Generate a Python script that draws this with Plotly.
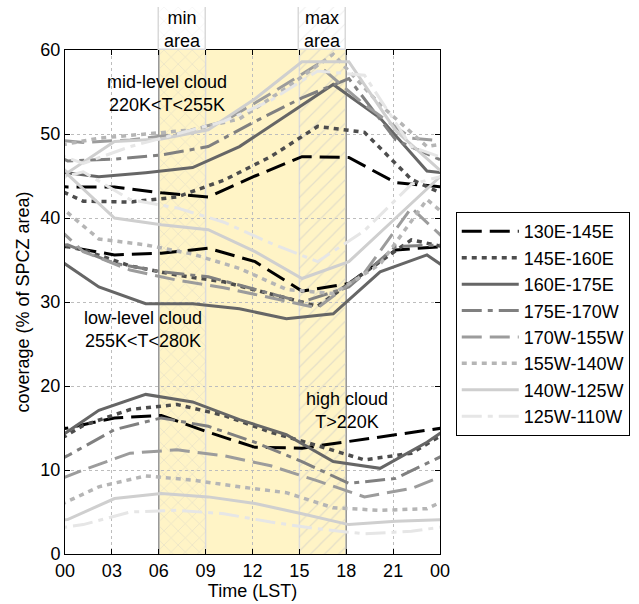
import plotly.graph_objects as go

# ---------------- data ----------------
hours_utc = [0, 3, 6, 9, 12, 15, 18, 21]
bands = ["130E-145E", "145E-160E", "160E-175E", "175E-170W",
         "170W-155W", "155W-140W", "140W-125W", "125W-110W"]
lon_centre = [137.5, 152.5, 167.5, 182.5, 197.5, 212.5, 227.5, 242.5]

tick_vals = [0, 3, 6, 9, 12, 15, 18, 21, 24]
tick_text = ["00", "03", "06", "09", "12", "15", "18", "21", "00"]

# coverage values, ordered by local solar time of each band's samples
mid_level = {
    "130E-145E": [43.7, 43.7, 43.0, 42.5, 45.0, 47.3, 47.2, 44.2],
    "145E-160E": [42.0, 41.9, 42.5, 44.5, 47.3, 50.9, 50.2, 44.6],
    "160E-175E": [44.9, 45.4, 46.0, 48.5, 52.2, 55.9, 51.9, 45.6],
    "175E-170W": [46.8, 47.0, 47.5, 48.5, 51.5, 54.3, 56.6, 49.3],
    "170W-155W": [49.0, 49.3, 50.0, 51.5, 54.8, 58.3, 53.5, 49.5],
    "155W-140W": [49.5, 50.0, 50.5, 51.8, 55.5, 59.5, 53.5, 48.5],
    "140W-125W": [45.4, 49.1, 49.4, 50.5, 54.2, 58.6, 58.6, 50.4],
    "125W-110W": [46.5, 48.5, 50.0, 51.5, 54.0, 57.5, 57.0, 48.5],
}
low_level = {
    "130E-145E": [36.6, 35.6, 35.8, 36.4, 34.8, 31.3, 32.2, 36.2],
    "145E-160E": [36.2, 34.3, 33.2, 32.4, 31.0, 29.5, 33.5, 37.4],
    "160E-175E": [31.8, 29.8, 29.8, 29.2, 28.0, 28.6, 33.6, 35.6],
    "175E-170W": [36.8, 34.6, 33.6, 33.0, 31.5, 30.0, 31.8, 36.6],
    "170W-155W": [36.0, 33.8, 32.6, 31.7, 30.5, 29.3, 33.5, 41.2],
    "155W-140W": [37.5, 36.8, 35.7, 34.0, 31.5, 31.0, 34.5, 42.2],
    "140W-125W": [45.2, 40.0, 39.2, 38.6, 36.0, 32.8, 34.8, 40.0],
    "125W-110W": [45.5, 42.2, 41.2, 39.5, 37.0, 34.8, 38.5, 44.0],
}
high_level = {
    "130E-145E": [15.0, 16.2, 16.5, 14.5, 12.7, 12.6, 13.4, 14.2],
    "145E-160E": [15.3, 17.2, 17.8, 16.5, 14.5, 12.9, 11.2, 12.0],
    "160E-175E": [17.1, 19.0, 18.1, 16.0, 14.2, 11.0, 10.2, 13.3],
    "175E-170W": [11.7, 14.8, 16.2, 15.2, 13.3, 11.0, 8.4, 9.0],
    "170W-155W": [10.0, 12.0, 12.4, 11.7, 10.5, 8.7, 6.8, 7.8],
    "155W-140W": [8.0, 9.3, 8.8, 8.0, 7.3, 5.5, 5.2, 5.4],
    "140W-125W": [4.1, 6.6, 7.2, 6.8, 6.0, 4.8, 3.5, 3.9],
    "125W-110W": [3.5, 5.0, 5.2, 4.8, 3.8, 3.0, 2.4, 2.7],
}

# highlighted periods: (label, start hour, end hour, hatch)
periods = [("min<br>area", 6, 9, "x"), ("max<br>area", 15, 18, "/")]
daytime = (6, 18)

cloud_labels = [
    ("mid-level cloud<br>220K&lt;T&lt;255K", 6.5, 54.8),
    ("low-level cloud<br>255K&lt;T&lt;280K", 5.0, 26.7),
    ("high cloud<br>T&gt;220K", 18.05, 17.1),
]

# ---------------- styles ----------------
colors = ["#000000", "#4d4d4d", "#666666", "#808080",
          "#9c9c9c", "#b5b5b5", "#cfcfcf", "#e6e6e6"]
dashes = ["20px,8px", "5px,5px", "solid", "20px,6px,5px,6px",
          "20px,8px", "5px,5px", "solid", "20px,6px,5px,6px"]

FONT = "Liberation Sans, Arial, Helvetica, sans-serif"
FS = 18
fig = go.Figure()

# yellow day-time background
fig.add_shape(type="rect", xref="x", yref="y", x0=daytime[0], x1=daytime[1],
              y0=0, y1=60, fillcolor="#FFF4C6", line_width=0, layer="below")

# hatched periods inside plot and boxes above
for label, a, b, hatch in periods:
    fig.add_trace(go.Bar(
        x=[(a + b) / 2], y=[60], width=[b - a], xaxis="x", yaxis="y",
        marker=dict(color="rgba(0,0,0,0)", line=dict(width=0),
                    pattern=dict(shape=hatch, fgcolor="#c9c9c9",
                                 bgcolor="rgba(0,0,0,0)", size=10, solidity=0.12)),
        showlegend=False, hoverinfo="skip"))
    fig.add_trace(go.Bar(
        x=[(a + b) / 2], y=[1], width=[b - a], xaxis="x2", yaxis="y2",
        marker=dict(color="white", line=dict(color="#d9d9d9", width=1.5),
                    pattern=dict(shape=hatch, fgcolor="#dedede",
                                 bgcolor="white", size=10, solidity=0.1)),
        showlegend=False, hoverinfo="skip"))
    fig.add_annotation(x=(a + b) / 2, y=0.48, xref="x2", yref="y2", text=label,
                       showarrow=False, font=dict(size=FS, color="black", family=FONT))
    for xv in (a, b):
        fig.add_shape(type="line", xref="x", yref="y", x0=xv, x1=xv, y0=0, y1=60,
                      line=dict(color="#dcdcdc", width=1.5), layer="between")

for xv in daytime:
    fig.add_shape(type="line", xref="x", yref="y", x0=xv, x1=xv, y0=0, y1=60,
                  line=dict(color="#999999", width=1.5), layer="between")

# data lines
for i, band in enumerate(bands):
    offset = lon_centre[i] / 15.0
    lst = sorted(((h + offset) % 24) for h in hours_utc)
    xs, ys = [], []
    for group in (mid_level, low_level, high_level):
        v = group[band]
        xs += [lst[-1] - 24] + lst + [lst[0] + 24] + [None]
        ys += [v[-1]] + v + [v[0]] + [None]
    width = 3.5 if dashes[i] == "5px,5px" else 3
    fig.add_trace(go.Scatter(
        x=xs, y=ys, mode="lines", name=band, connectgaps=False,
        line=dict(color=colors[i], width=width, dash=dashes[i]),
        xaxis="x", yaxis="y"))

for text, xv, yv in cloud_labels:
    fig.add_annotation(x=xv, y=yv, xref="x", yref="y", text=text, showarrow=False,
                       font=dict(size=FS, color="black", family=FONT))

main_top = (554 - 50) / 547.0
fig.update_layout(
    width=639, height=604,
    margin=dict(l=65, r=199, t=7, b=50),
    paper_bgcolor="white", plot_bgcolor="rgba(0,0,0,0)",
    font=dict(family=FONT, size=FS, color="black"),
    barmode="overlay", bargap=0,
    showlegend=True,
    legend=dict(x=1.042, y=0.625, xanchor="left", yanchor="top",
                bordercolor="black", borderwidth=1, bgcolor="white",
                font=dict(size=FS, family=FONT), itemwidth=57),
    xaxis=dict(domain=[0, 1], range=[0, 24], anchor="y",
               tickvals=tick_vals, ticktext=tick_text,
               showline=True, linecolor="black", linewidth=1, mirror="ticks",
               ticks="inside", ticklen=5, tickcolor="black",
               showgrid=True, gridcolor="#bdbdbd", griddash="dot", gridwidth=1,
               zeroline=False, automargin=False,
               title=dict(text="Time (LST)", standoff=2, font=dict(size=FS)),
               tickfont=dict(size=FS)),
    yaxis=dict(domain=[0, main_top], range=[0, 60], anchor="x", dtick=10,
               showline=True, linecolor="black", linewidth=1, mirror="ticks",
               ticks="inside", ticklen=5, tickcolor="black",
               showgrid=True, gridcolor="#bdbdbd", griddash="dot", gridwidth=1,
               zeroline=False, automargin=False,
               title=dict(text="coverage (% of SPCZ area)", standoff=6, font=dict(size=FS)),
               tickfont=dict(size=FS)),
    xaxis2=dict(domain=[0, 1], range=[0, 24], anchor="y2", visible=False,
                showgrid=False, zeroline=False),
    yaxis2=dict(domain=[main_top, 1], range=[0, 1], anchor="x2", visible=False,
                showgrid=False, zeroline=False),
)

fig.write_html("out.html", config={"displayModeBar": False},
               post_script="document.body.style.margin='0px';")
